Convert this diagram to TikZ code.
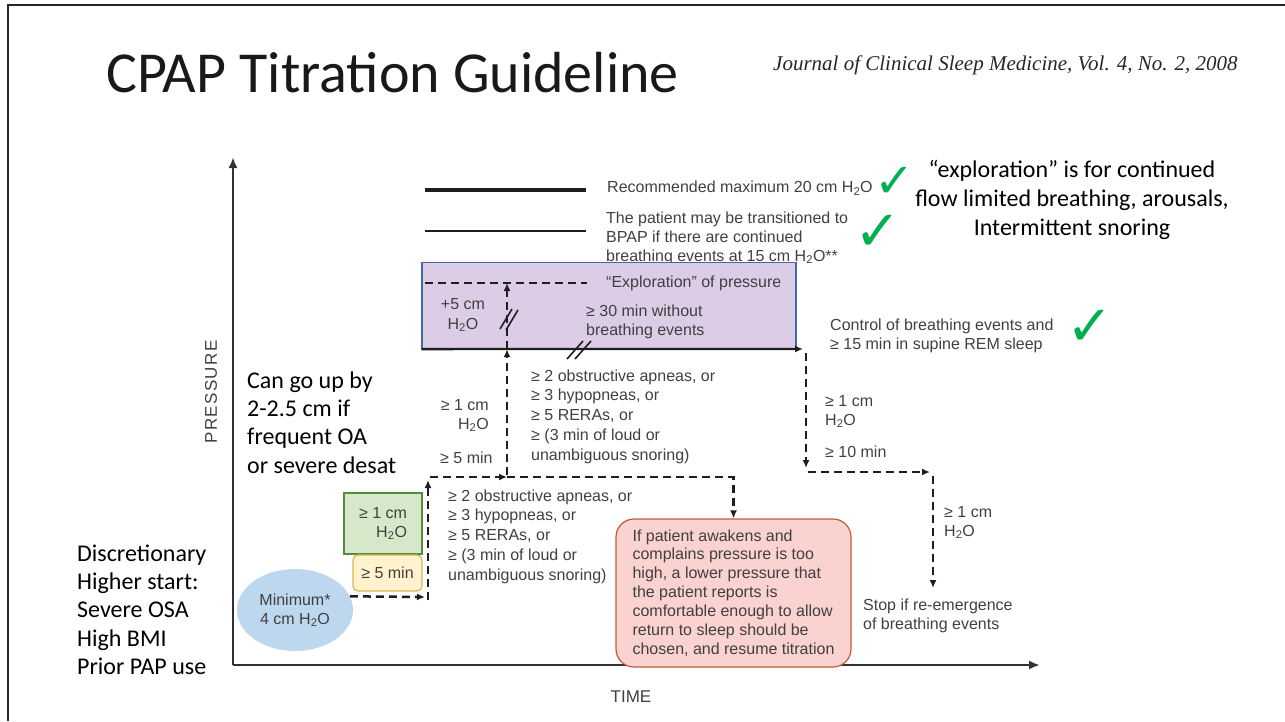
\documentclass[tikz,border=0pt]{standalone}
\usepackage{fontspec}
\setmainfont{Carlito}
\newfontfamily\arialFont{Liberation Sans}
\newfontfamily\journalFont{Liberation Serif}
\newfontfamily\symFont{DejaVu Sans}
\usetikzlibrary{arrows.meta}
\usetikzlibrary{shapes}

\definecolor{txtGray}{RGB}{64,64,64}
\definecolor{lineDark}{RGB}{30,30,30}
\definecolor{axisGray}{RGB}{50,50,50}
\definecolor{tickGreen}{RGB}{0,176,80}
\definecolor{expFill}{RGB}{220,204,230}
\definecolor{expEdge}{RGB}{65,105,165}
\definecolor{grnFill}{RGB}{214,232,202}
\definecolor{grnEdge}{RGB}{84,140,60}
\definecolor{yelFill}{RGB}{255,242,204}
\definecolor{yelEdge}{RGB}{214,182,86}
\definecolor{ovalFill}{RGB}{189,215,238}
\definecolor{wakeFill}{RGB}{250,210,208}
\definecolor{wakeEdge}{RGB}{190,92,58}

\tikzset{
	diaTxt/.style={font=\arialFont\fontsize{16}{19.5}\selectfont, text=txtGray, inner sep=0pt, align=left},
	noteTxt/.style={font=\fontsize{24}{28.3}\selectfont, inner sep=0pt, align=left},
	dashLine/.style={draw=lineDark, line width=2.5pt, dash pattern=on 8pt off 5pt},
	dashArrow/.style={dashLine, -{Latex[length=8pt,width=7pt]}},
	solidArrow/.style={draw=lineDark, line width=2.3pt, -{Latex[length=8pt,width=7pt]}},
	axisLine/.style={draw=axisGray, line width=2.5pt, -{Latex[length=11pt,width=9pt]}},
	slashMark/.style={draw=lineDark, line width=1.6pt},
	checkMark/.style={font=\symFont\fontsize{56}{56}\selectfont, text=tickGreen, inner sep=0pt},
}

\begin{document}
\begin{tikzpicture}[x=1pt,y=-1pt]
	\useasboundingbox (0,0) rectangle (1285,721);
	%% slide frame
	\coordinate (frameBL) at (8,721);
	\coordinate (frameTL) at (8,5);
	\coordinate (frameTR) at (1285,5);
	\draw[line width=2.2pt, black!85] (frameBL) -- (frameTL) -- (frameTR);

	%% heading
	\node[anchor=base west, inner sep=0pt, font=\fontsize{58}{60}\selectfont, text=black!90]
		(title) at (106,92) {CPAP Titration Guideline};
	\node[anchor=base west, inner sep=0pt, font=\journalFont\itshape\fontsize{21}{24}\selectfont, text=black!85]
		(journal) at (773,70) {Journal of Clinical Sleep Medicine, Vol. 4, No. 2, 2008};

	%% axes
	\coordinate (origin) at (233,665);
	\coordinate (yTop) at (233,157);
	\coordinate (xEnd) at (1040,665);
	\draw[axisLine] (origin) -- (yTop);
	\draw[axisLine] (origin) -- (xEnd);
	\node[diaTxt, font=\arialFont\fontsize{17}{20}\selectfont\addfontfeature{LetterSpace=8}, rotate=90]
		(pressureLbl) at (211,392) {PRESSURE};
	\node[diaTxt, font=\arialFont\fontsize{17}{20}\selectfont] (timeLbl) at (631,697) {TIME};

	%% legend
	\coordinate (maxL) at (425,190);
	\coordinate (maxR) at (586,190);
	\draw[line width=3.6pt, lineDark] (maxL) -- (maxR);
	\node[diaTxt, anchor=west] (maxTxt) at (607,188)
		{Recommended maximum 20 cm H\textsubscript{2}O};
	\coordinate (bpapL) at (425,231);
	\coordinate (bpapR) at (586,231);
	\draw[line width=1.6pt, lineDark] (bpapL) -- (bpapR);
	\node[diaTxt, anchor=west, font=\arialFont\fontsize{16}{19}\selectfont] (bpapTxt) at (606,238)
		{The patient may be transitioned to\\BPAP if there are continued\\breathing events at 15 cm H\textsubscript{2}O**};

	%% exploration band
	\node[draw=expEdge, fill=expFill, line width=1.2pt, minimum width=374pt, minimum height=86pt, inner sep=0pt]
		(expBox) at (609,305.5) {};
	\coordinate (expL) at (425,283);
	\coordinate (expR) at (587,283);
	\draw[dashLine] (expL) -- (expR);
	\node[diaTxt, anchor=west] (expTxt) at (606,283) {“Exploration” of pressure};
	\node[diaTxt, align=center, font=\arialFont\fontsize{16}{20}\selectfont] (plusTxt) at (463,315)
		{+5 cm\\H\textsubscript{2}O};
	\node[diaTxt, anchor=west, font=\arialFont\fontsize{16}{19}\selectfont] (thirtyTxt) at (586,321.5)
		{≥ 30 min without\\breathing events};

	%% plateau and break marks
	\coordinate (riseB) at (507,475);
	\coordinate (plateauEnd) at (803,349);
	\draw[solidArrow] (expBox.south west) -- (plateauEnd);
	\draw[dashArrow] (riseB) -- (expBox.south -| riseB);
	\draw[dashArrow] (expBox.south -| riseB) -- (expL -| riseB);
	\coordinate (brkV) at (509,319);
	\draw[slashMark] ([shift={(-9,10)}]brkV) -- ++(12,-20);
	\draw[slashMark] ([shift={(-3,11)}]brkV) -- ++(12,-20);
	\coordinate (brkH) at (580,350);
	\draw[slashMark] ([shift={(-13,9)}]brkH) -- ++(16,-18);
	\draw[slashMark] ([shift={(-5,9)}]brkH) -- ++(16,-18);

	%% left branch texts
	\node[diaTxt, anchor=west, font=\arialFont\fontsize{16}{19.75}\selectfont] (upperList) at (531,416.5)
		{≥ 2 obstructive apneas, or\\≥ 3 hypopneas, or\\≥ 5 RERAs, or\\≥ (3 min of loud or\\unambiguous snoring)};
	\node[diaTxt, anchor=east, align=right, font=\arialFont\fontsize{16}{19}\selectfont] (upCm) at (489,415.5)
		{≥ 1 cm\\H\textsubscript{2}O};
	\node[diaTxt, anchor=west] (upMin) at (440,458) {≥ 5 min};

	%% starting step
	\node[ellipse, fill=ovalFill, minimum width=116pt, minimum height=82pt, inner sep=0pt,
		diaTxt, align=center, font=\arialFont\fontsize{16}{19}\selectfont]
		(minOval) at (295,610) {Minimum*\\4 cm H\textsubscript{2}O};
	\node[draw=grnEdge, fill=grnFill, line width=1.2pt, minimum width=78pt, minimum height=61pt,
		diaTxt, align=right, font=\arialFont\fontsize{16}{19}\selectfont]
		(grnBox) at (383,523.5) {≥ 1 cm\\H\textsubscript{2}O};
	\node[draw=yelEdge, fill=yelFill, line width=1.2pt, rounded corners=5pt, minimum width=69pt, minimum height=36pt,
		diaTxt, align=center]
		(yelBox) at (387.5,573) {≥ 5 min};
	\coordinate (minR) at (425,597);
	\coordinate (riseA) at (428,600);
	\coordinate (topA) at (428,480);
	\coordinate (stepA) at (430,477);
	\coordinate (joinB) at (507,477);
	\coordinate (turnC) at (733.5,477);
	\draw[dashArrow] (minOval.14) -- (minR);
	\draw[dashArrow] (riseA) -- (topA);
	\draw[dashArrow] (stepA) -- (joinB);
	\node[diaTxt, anchor=west, font=\arialFont\fontsize{16}{19.75}\selectfont] (lowerList) at (448,536.5)
		{≥ 2 obstructive apneas, or\\≥ 3 hypopneas, or\\≥ 5 RERAs, or\\≥ (3 min of loud or\\unambiguous snoring)};

	%% awakening box
	\node[draw=wakeEdge, fill=wakeFill, line width=1.2pt, rounded corners=18pt, minimum width=235pt, minimum height=148pt,
		diaTxt, font=\arialFont\fontsize{16}{18.9}\selectfont]
		(wakeBox) at (733.5,593)
		{If patient awakens and\\complains pressure is too\\high, a lower pressure that\\the patient reports is\\comfortable enough to allow\\return to sleep should be\\chosen, and resume titration};
	\draw[dashArrow] (joinB) -- (turnC) -- (wakeBox.north);

	%% descending branch
	\coordinate (dropA) at (806,353);
	\coordinate (dropAEnd) at (806,468);
	\coordinate (runA) at (808,472);
	\coordinate (runAEnd) at (930,472);
	\coordinate (dropB) at (933,476);
	\coordinate (dropBEnd) at (933,588);
	\draw[dashArrow] (dropA) -- (dropAEnd);
	\draw[dashArrow] (runA) -- (runAEnd);
	\draw[dashArrow] (dropB) -- (dropBEnd);
	\node[diaTxt, anchor=west, font=\arialFont\fontsize{16}{18.5}\selectfont] (ctrlTxt) at (830,336)
		{Control of breathing events and\\≥ 15 min in supine REM sleep};
	\node[diaTxt, anchor=west, font=\arialFont\fontsize{16}{19}\selectfont] (rightCm) at (825,411.5)
		{≥ 1 cm\\H\textsubscript{2}O};
	\node[diaTxt, anchor=west] (rightMin) at (825,452) {≥ 10 min};
	\node[diaTxt, anchor=west, font=\arialFont\fontsize{16}{19}\selectfont] (farCm) at (944,522.5)
		{≥ 1 cm\\H\textsubscript{2}O};
	\node[diaTxt, anchor=west, font=\arialFont\fontsize{16}{18.5}\selectfont] (stopTxt) at (863,616)
		{Stop if re-emergence\\of breathing events};

	%% slide notes
	\node[noteTxt, anchor=west] (upNote) at (247,422.5)
		{Can go up by\\2-2.5 cm if\\frequent OA\\or severe desat};
	\node[noteTxt, anchor=west] (startNote) at (77,609.5)
		{Discretionary\\Higher start:\\Severe OSA\\High BMI\\Prior PAP use};
	\node[noteTxt, align=center, font=\fontsize{24}{29}\selectfont] (expNote) at (1072,200)
		{“exploration” is for continued\\flow limited breathing, arousals,\\Intermittent snoring};
	\node[checkMark, anchor=west, font=\symFont\fontsize{48}{48}\selectfont] (chkMax) at (874,182) {✓};
	\node[checkMark] (chkBpap) at (878,233) {✓};
	\node[checkMark] (chkCtrl) at (1090,328) {✓};
\end{tikzpicture}
\end{document}
